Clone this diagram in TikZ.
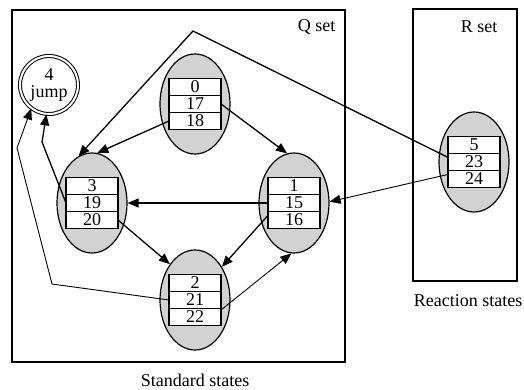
\documentclass[tikz,border=0pt]{standalone}
\usepackage{fontspec}
\setmainfont{Liberation Serif}
\usetikzlibrary{positioning,shapes.geometric,arrows.meta}
\definecolor{stategray}{RGB}{210,210,210}
\begin{document}
\begin{tikzpicture}[x=1pt,y=-1pt,
		state/.style={ellipse,draw,fill=stategray,line width=1.2pt,minimum width=70pt,minimum height=100pt,inner sep=0pt},
		slot/.style={rectangle,draw,fill=white,line width=1.5pt,minimum width=52pt,minimum height=17pt,inner sep=0pt,outer sep=0pt},
		edge/.style={line width=1.3pt,-{Triangle[length=11pt,width=9pt]}},
		thin edge/.style={edge,line width=0.9pt},
		frame/.style={draw,line width=1.5pt},
		every node/.style={font=\fontsize{18}{20}\selectfont} ]
	\useasboundingbox (0,0) rectangle (524,390);
	% set frames
	\draw[frame] (12,10) rectangle (345,362);
	\draw[frame] (413,9) rectangle (517,281);
	\node [anchor=east] (qlabel) at (339,27) {Q set};
	\node [anchor=east] (rlabel) at (501,27) {R set};
	\node (stdlabel) at (195,380) {Standard states};
	\node (reactlabel) at (468,301) {Reaction states};
	% jump state
	\node [circle,draw,double,line width=1pt,double distance=2pt,minimum size=58pt,inner sep=0pt,align=center] (jump) at (49,85) {4\\[-3pt]jump};
	% standard states
	\node [state] (s0) at (195,104) {};
	\node [slot] (s0b) at (s0) {17};
	\node [slot,above=0pt of s0b] (s0a) {0};
	\node [slot,below=0pt of s0b] (s0c) {18};
	\node [state] (s1) at (294,203) {};
	\node [slot] (s1b) at (s1) {15};
	\node [slot,above=0pt of s1b] (s1a) {1};
	\node [slot,below=0pt of s1b] (s1c) {16};
	\node [state] (s2) at (195,300) {};
	\node [slot] (s2b) at (s2) {21};
	\node [slot,above=0pt of s2b] (s2a) {2};
	\node [slot,below=0pt of s2b] (s2c) {22};
	\node [state] (s3) at (92,203) {};
	\node [slot] (s3b) at (s3) {19};
	\node [slot,above=0pt of s3b] (s3a) {3};
	\node [slot,below=0pt of s3b] (s3c) {20};
	% reaction state
	\node [state] (s5) at (474,162) {};
	\node [slot] (s5b) at (s5) {23};
	\node [slot,above=0pt of s5b] (s5a) {5};
	\node [slot,below=0pt of s5b] (s5c) {24};
	% bends
	\coordinate (peak) at (193,31);
	\coordinate (bendA) at (42,142);
	\coordinate (bendB) at (52,284);
	\coordinate (bendC) at (17,148);
	% transitions
	\draw[edge] (s0b.east) -- (s1.98);
	\draw[edge] (s0c.west) -- (s3.84);
	\draw[edge] (s5b.170) -- (peak) -- (s3.106);
	\draw[thin edge] (s5c.170) -- (s1.2);
	\draw[edge] (s1b.west) -- (s3.east);
	\draw[edge] (s3c.east) -- (s2.125);
	\draw[edge] (s1c.170) -- (s2.51);
	\draw[thin edge] (s2c.15) -- (s1.267);
	\draw[edge] (s3b.west) -- (bendA) -- (jump.265);
	\draw[thin edge] (s2b.west) -- (bendB) -- (bendC) -- (jump.233);
\end{tikzpicture}
\end{document}
